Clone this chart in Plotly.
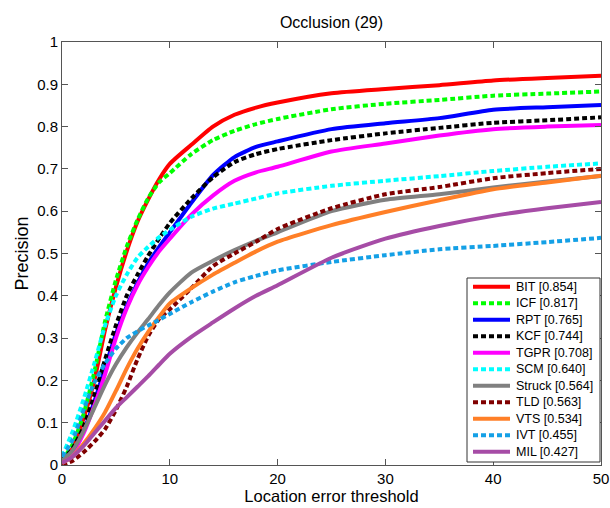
import plotly.graph_objects as go

# Location error thresholds at which values were read
thresholds = [0, 1, 2, 3, 4, 5, 6, 7, 8, 9, 10, 12, 14, 16, 18, 20, 25, 30, 35, 40, 45, 50]

trackers = ["BIT", "ICF", "RPT", "KCF", "TGPR", "SCM", "Struck", "TLD", "VTS", "IVT", "MIL"]
scores = ["0.854", "0.817", "0.765", "0.744", "0.708", "0.640", "0.564", "0.563", "0.534", "0.455", "0.427"]

bit = [0.01, 0.04, 0.11, 0.20, 0.32, 0.42, 0.505, 0.575, 0.628, 0.675, 0.712, 0.757, 0.80, 0.828, 0.845, 0.857, 0.879, 0.889, 0.898, 0.909, 0.915, 0.92]
icf = [0.01, 0.05, 0.12, 0.22, 0.34, 0.437, 0.516, 0.579, 0.631, 0.668, 0.69, 0.735, 0.768, 0.79, 0.806, 0.818, 0.841, 0.854, 0.863, 0.873, 0.878, 0.883]
rpt = [0.01, 0.03, 0.08, 0.15, 0.23, 0.31, 0.375, 0.43, 0.477, 0.515, 0.55, 0.62, 0.685, 0.728, 0.752, 0.765, 0.794, 0.808, 0.82, 0.84, 0.846, 0.851]
kcf = [0.01, 0.04, 0.09, 0.165, 0.25, 0.33, 0.40, 0.45, 0.495, 0.535, 0.572, 0.63, 0.68, 0.716, 0.735, 0.747, 0.768, 0.784, 0.797, 0.809, 0.815, 0.822]
tgpr = [0.01, 0.03, 0.075, 0.14, 0.215, 0.30, 0.37, 0.425, 0.468, 0.505, 0.535, 0.592, 0.637, 0.672, 0.692, 0.705, 0.741, 0.76, 0.779, 0.794, 0.80, 0.804]
scm = [0.02, 0.08, 0.155, 0.24, 0.33, 0.40, 0.45, 0.49, 0.516, 0.538, 0.556, 0.587, 0.606, 0.618, 0.63, 0.642, 0.66, 0.672, 0.683, 0.695, 0.705, 0.713]
struck = [0.01, 0.035, 0.08, 0.135, 0.19, 0.238, 0.278, 0.313, 0.345, 0.378, 0.408, 0.455, 0.483, 0.508, 0.53, 0.55, 0.60, 0.627, 0.64, 0.656, 0.67, 0.683]
tld = [0.0, 0.01, 0.03, 0.055, 0.085, 0.13, 0.185, 0.25, 0.305, 0.345, 0.368, 0.418, 0.47, 0.50, 0.528, 0.558, 0.607, 0.64, 0.657, 0.678, 0.69, 0.70]
vts = [0.005, 0.02, 0.05, 0.085, 0.125, 0.175, 0.228, 0.275, 0.315, 0.35, 0.382, 0.418, 0.45, 0.478, 0.505, 0.528, 0.567, 0.598, 0.626, 0.652, 0.668, 0.684]
ivt = [0.02, 0.06, 0.13, 0.195, 0.24, 0.275, 0.30, 0.316, 0.33, 0.343, 0.357, 0.385, 0.41, 0.432, 0.447, 0.46, 0.48, 0.496, 0.51, 0.518, 0.527, 0.537]
mil = [0.005, 0.02, 0.045, 0.075, 0.105, 0.135, 0.16, 0.185, 0.21, 0.237, 0.263, 0.303, 0.337, 0.37, 0.40, 0.425, 0.49, 0.535, 0.565, 0.589, 0.607, 0.622]

series = [bit, icf, rpt, kcf, tgpr, scm, struck, tld, vts, ivt, mil]
colors = ["#ff0000", "#00ff00", "#0000ff", "#000000", "#ff00ff", "#00ffff",
          "#808080", "#800000", "#ff7f27", "#14a0e6", "#a64ca6"]
dashes = ["solid", "5px,3px", "solid", "5px,3px", "solid", "5px,3px",
          "solid", "5px,3px", "solid", "5px,3px", "solid"]

FONT = "Liberation Sans, Arial, sans-serif"

W, H = 610, 508
ML, MR, MT, MB = 62, 9, 42, 43
PW, PH = W - ML - MR, H - MT - MB

fig = go.Figure()
for name, sc, ys, col, dsh in zip(trackers, scores, series, colors, dashes):
    fig.add_trace(go.Scatter(
        x=thresholds, y=ys, mode="lines",
        name=f"{name} [{sc}]",
        line=dict(color=col, width=4, dash=dsh, shape="spline", smoothing=0.6),
        showlegend=False,
    ))

# Legend box (compact, MATLAB-like), built from the traces' names/styles
def px_x(p):
    return (p - ML) / PW

def px_y(p):
    return (H - MB - p) / PH

box_l, box_r, box_t, box_b = 467, 600, 278, 462
row0, row_step = 286.7, 16.5
fig.add_shape(type="rect", xref="paper", yref="paper",
              x0=px_x(box_l), x1=px_x(box_r), y0=px_y(box_b), y1=px_y(box_t),
              fillcolor="white", line=dict(color="#333333", width=1), layer="above")
for i, tr in enumerate(fig.data):
    yy = px_y(row0 + row_step * i)
    fig.add_shape(type="line", xref="paper", yref="paper",
                  x0=px_x(473), x1=px_x(510), y0=yy, y1=yy,
                  line=dict(color=tr.line.color, width=4, dash=tr.line.dash),
                  layer="above")
    fig.add_annotation(xref="paper", yref="paper", x=px_x(514), y=yy,
                       xanchor="left", yanchor="middle", showarrow=False,
                       text=tr.name, font=dict(family=FONT, size=12.5, color="black"))

axis_common = dict(
    showline=True, linecolor="#555555", linewidth=1, mirror="ticks",
    ticks="inside", ticklen=6, tickcolor="#555555", tickwidth=1,
    showgrid=False, zeroline=False, automargin=False,
    tickfont=dict(family=FONT, size=15, color="black"),
)

fig.update_layout(
    width=W, height=H,
    margin=dict(l=ML, r=MR, t=MT, b=MB, pad=0),
    paper_bgcolor="white", plot_bgcolor="white",
    title=dict(text="Occlusion (29)", x=0.5, xref="paper", xanchor="center",
               y=1 - 22 / H, yref="container", yanchor="middle",
               font=dict(family=FONT, size=16, color="black")),
    xaxis=dict(range=[0, 50], dtick=10, tick0=0,
               title=dict(text="Location error threshold", standoff=4,
                          font=dict(family=FONT, size=16.5, color="black")),
               **axis_common),
    yaxis=dict(range=[0, 1], dtick=0.1, tick0=0,
               title=dict(text="Precision", standoff=3,
                          font=dict(family=FONT, size=18, color="black")),
               **axis_common),
    showlegend=False,
)

fig.write_html("out.html")
